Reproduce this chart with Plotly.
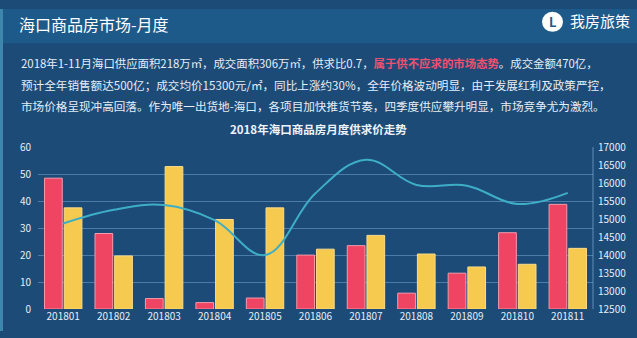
import plotly.graph_objects as go

# Monthly supply / transaction area (万㎡) and average price (元/㎡), Haikou 2018
months = ["201801", "201802", "201803", "201804", "201805", "201806",
          "201807", "201808", "201809", "201810", "201811"]
supply_area = [48.5, 28.0, 3.9, 2.4, 4.1, 20.0, 23.5, 5.9, 13.3, 28.3, 38.8]
deal_area = [37.5, 19.7, 52.8, 33.2, 37.5, 22.2, 27.3, 20.4, 15.6, 16.6, 22.5]
avg_price = [14880, 15260, 15390, 14970, 14000, 15720, 16650, 15950, 15930, 15420, 15730]

left_ticks = [0, 10, 20, 30, 40, 50, 60]
right_ticks = [12500, 13000, 13500, 14000, 14500, 15000, 15500, 16000, 16500, 17000]

W, H = 637, 338
FONT = "Noto Sans CJK SC"
RED = "#ef4462"
YELLOW = "#f6ca4e"
LINE = "#3eaec6"
BG = "#1c4b78"


def px(x):
    return x / W


def py(y):
    return 1 - y / H


fig = go.Figure()
fig.add_trace(go.Bar(x=months, y=supply_area, name="供应面积",
                     marker=dict(color=RED, line=dict(color="#f59aaa", width=1))))
fig.add_trace(go.Bar(x=months, y=deal_area, name="成交面积",
                     marker=dict(color=YELLOW, line=dict(color="#f9dc8a", width=1))))
fig.add_trace(go.Scatter(x=months, y=avg_price, name="成交均价", yaxis="y2",
                         mode="lines", line=dict(color=LINE, width=2, shape="spline", smoothing=1.1)))

shapes = [
    # header band
    dict(type="rect", xref="paper", yref="paper", x0=0, x1=1, y0=py(36), y1=1,
         fillcolor="#1d5a8a", line_width=0, layer="below"),
    # left edge strip
    dict(type="rect", xref="paper", yref="paper", x0=0, x1=px(3), y0=0, y1=1,
         fillcolor="#3f86ad", line_width=0, layer="below"),
    # logo circle
    dict(type="circle", xref="paper", yref="paper",
         x0=px(542), x1=px(563), y0=py(24), y1=py(3),
         fillcolor="white", line_width=0),
    # right axis line
    dict(type="line", xref="paper", yref="paper", x0=px(593), x1=px(593),
         y0=py(315), y1=py(145), line=dict(color="rgba(150,200,230,0.55)", width=1)),
]


def note(text, x, y, size, color="#e6eef6", anchor="left"):
    return dict(text=text, xref="paper", yref="paper", x=px(x), y=py(y),
                xanchor=anchor, yanchor="middle", showarrow=False,
                font=dict(family=FONT, size=size, color=color))


annotations = [
    note("海口商品房市场-月度", 17, 16, 16, "white"),
    note("<b>L</b>", 552.5, 13.5, 13, "#1d5a8a", "center"),
    note("我房旅策", 568, 12, 15, "white"),
    note("2018年1-11月海口供应面积218万㎡，成交面积306万㎡，供求比0.7，"
         "<span style='color:#f0506e'><b>属于供不应求的市场态势</b></span>。成交金额470亿，", 19, 57, 11.4),
    note("预计全年销售额达500亿；成交均价15300元/㎡，同比上涨约30%，全年价格波动明显，由于发展红利及政策严控，",
         19, 80, 11.6),
    note("市场价格呈现冲高回落。作为唯一出货地-海口，各项目加快推货节奏，四季度供应攀升明显，市场竞争尤为激烈。",
         19, 102, 11.6),
    note("<b>2018年海口商品房月度供求价走势</b>", 318, 126, 11.5, "#eef3f8", "center"),
]

fig.update_layout(
    width=W, height=H,
    margin=dict(l=0, r=0, t=0, b=0),
    paper_bgcolor=BG, plot_bgcolor="rgba(0,0,0,0)",
    showlegend=False,
    barmode="group", bargap=0.22, bargroupgap=0.1,
    font=dict(family=FONT, color="#e6eef6"),
    shapes=shapes, annotations=annotations,
    xaxis=dict(domain=[px(38), px(593)], range=[-0.5, len(months) - 0.5],
               showgrid=False, zeroline=False,
               showline=False, ticks="", tickfont=dict(size=10, color="#e6eef6"),
               categoryorder="array", categoryarray=months),
    yaxis=dict(domain=[py(315), py(145)], range=[0, 60], tickvals=left_ticks,
               showgrid=True, gridcolor="rgba(130,185,225,0.45)", gridwidth=1,
               zeroline=False, showline=False, ticks="",
               tickfont=dict(size=10, color="#e6eef6"), ticklabelstandoff=6),
    yaxis2=dict(overlaying="y", side="right", range=[12500, 17000], tickvals=right_ticks,
                tickformat="d",
                showgrid=False, zeroline=False, showline=False, ticks="",
                tickfont=dict(size=10, color="#e6eef6"), ticklabelstandoff=4),
)

fig.write_html("out.html")
